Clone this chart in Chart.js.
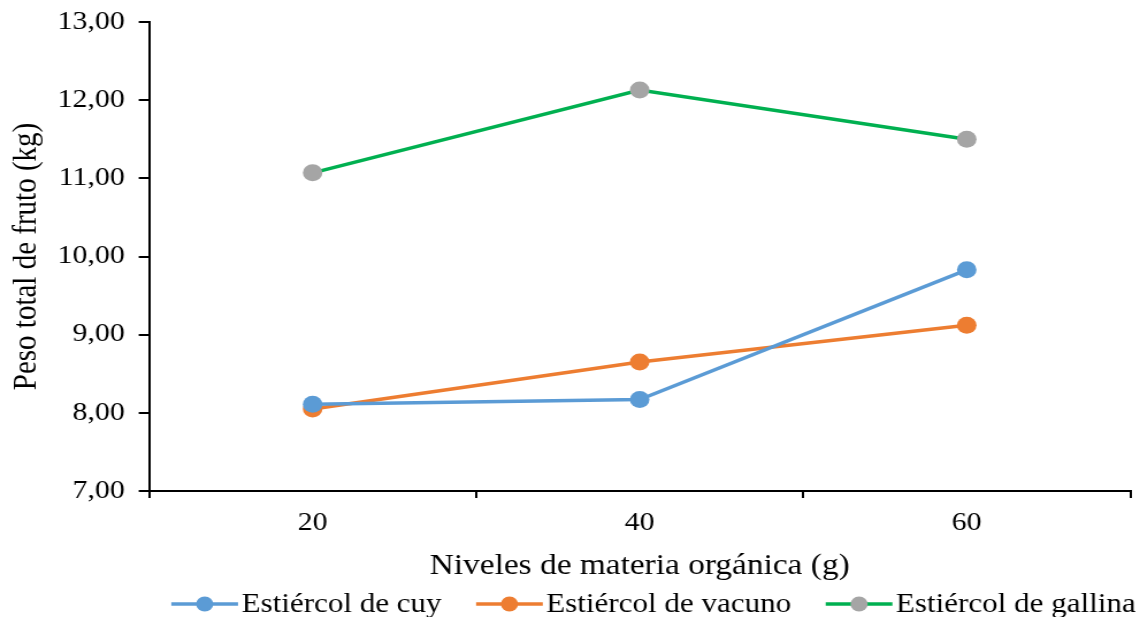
<!DOCTYPE html>
<html>
<head>
<meta charset="utf-8">
<script src="https://cdn.jsdelivr.net/npm/chart.js@4/dist/chart.umd.min.js"></script>
<style>
  html, body { margin: 0; padding: 0; background: #fff; overflow: hidden; }
  /* de grafiek is in het origineel horizontaal iets uitgerekt */
  #wrap { width: 1140px; height: 617px; }
  #grafiek { transform-origin: 0 0; transform: scaleX(1.1504); }
</style>
</head>
<body>
<div id="wrap"><canvas id="grafiek" width="991" height="617"></canvas></div>
<script>
// Gegevens
const niveles = ['20', '40', '60'];
const cuy = [8.11, 8.17, 9.83];
const vacuno = [8.05, 8.65, 9.12];
const gallina = [11.07, 12.13, 11.50];
const yTicks = [7, 8, 9, 10, 11, 12, 13];

const serif = "'Liberation Serif', 'Times New Roman', serif";

// Eigen legenda: lijn met bolletje, zoals in Excel
const lineLegend = {
    id: 'lineLegend',
    afterDraw(chart) {
        const ctx = chart.ctx;
        const area = chart.chartArea;
        const lineLen = 58, gapText = 3, gapItem = 30;
        ctx.save();
        ctx.font = '27px ' + serif;
        ctx.textBaseline = 'middle';
        const widths = chart.data.datasets.map(ds => lineLen + gapText + ctx.measureText(ds.label).width);
        const total = widths.reduce((a, b) => a + b, 0) + gapItem * (widths.length - 1);
        let x = (area.left + area.right) / 2 + 12 - total / 2;
        const y = 604;
        chart.data.datasets.forEach((ds, i) => {
            ctx.strokeStyle = ds.borderColor;
            ctx.lineWidth = 3.5;
            ctx.beginPath();
            ctx.moveTo(x, y);
            ctx.lineTo(x + lineLen, y);
            ctx.stroke();
            ctx.fillStyle = ds.pointBackgroundColor;
            ctx.beginPath();
            ctx.arc(x + lineLen / 2, y, 7.5, 0, Math.PI * 2);
            ctx.fill();
            ctx.fillStyle = '#000';
            ctx.fillText(ds.label, x + lineLen + gapText, y + 1);
            x += widths[i] + gapItem;
        });
        ctx.restore();
    }
};

function serie(label, data, lijn, punt) {
    return {
        label: label,
        data: data,
        borderColor: lijn,
        backgroundColor: punt,
        pointBackgroundColor: punt,
        pointBorderColor: punt,
        borderWidth: 3.5,
        pointRadius: 8.5,
        pointHoverRadius: 8.5,
        pointBorderWidth: 0,
        tension: 0,
        fill: false
    };
}

const ctx = document.getElementById('grafiek').getContext('2d');
new Chart(ctx, {
    type: 'line',
    data: {
        labels: niveles,
        datasets: [
            serie('Estiércol de cuy', cuy, '#5B9BD5', '#5B9BD5'),
            serie('Estiércol de vacuno', vacuno, '#ED7D31', '#ED7D31'),
            serie('Estiércol de gallina', gallina, '#00B050', '#A5A5A5')
        ]
    },
    options: {
        responsive: false,
        animation: false,
        layout: { padding: { top: 22, right: 3, bottom: 33, left: 0 } },
        plugins: {
            legend: { display: false },
            tooltip: { enabled: false }
        },
        scales: {
            x: {
                offset: true,
                grid: { offset: true, drawOnChartArea: false, drawTicks: true, tickLength: 7, color: '#000', lineWidth: 2 },
                border: { display: true, color: '#000', width: 2 },
                ticks: { color: '#000', padding: 10, font: { family: serif, size: 26 } },
                title: {
                    display: true,
                    text: 'Niveles de materia orgánica (g)',
                    color: '#000',
                    font: { family: serif, size: 29 },
                    padding: { top: 0, bottom: 0 }
                },
                afterFit: s => { s.height = 93; }
            },
            y: {
                min: 7,
                max: 13,
                afterBuildTicks: s => { s.ticks = yTicks.map(v => ({ value: v })); },
                grid: { drawOnChartArea: false, drawTicks: true, tickLength: 9, color: '#000', lineWidth: 2 },
                border: { display: true, color: '#000', width: 2 },
                ticks: {
                    color: '#000',
                    padding: 12,
                    font: { family: serif, size: 26 },
                    callback: v => v.toFixed(2).replace('.', ',')
                },
                title: {
                    display: true,
                    text: 'Peso total de fruto (kg)',
                    color: '#000',
                    font: { family: serif, size: 29 },
                    padding: { top: 6, bottom: 0 }
                },
                afterFit: s => {
                    s.width = 129.6;
                    s.paddingTop = 0;
                    s.paddingBottom = 0;
                }
            }
        }
    },
    plugins: [lineLegend]
});
</script>
</body>
</html>
